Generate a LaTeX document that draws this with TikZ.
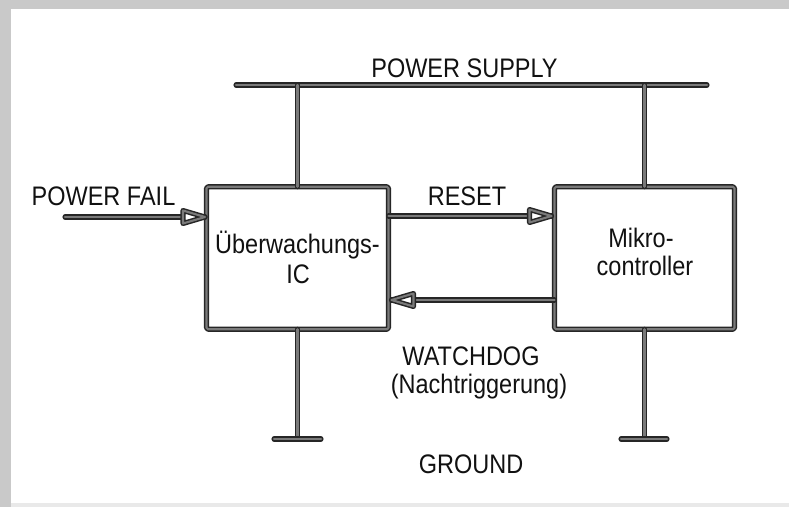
\documentclass[tikz,border=0pt]{standalone}
\usepackage{fontspec}
\setmainfont{Liberation Sans}
\definecolor{frame}{HTML}{C9C9C9}
\definecolor{outline}{HTML}{262626}
\definecolor{core}{HTML}{7A7A7A}
\definecolor{ink}{HTML}{111111}
\begin{document}
\begin{tikzpicture}[x=1pt,y=-1pt,
  wire/.style={draw=outline, line width=1.5pt, double=core, double distance=2.1pt, line cap=round, line join=round},
  box/.style={wire, rectangle, inner sep=0pt, outer sep=0pt, rounded corners=1.5pt},
  lbl/.style={anchor=base, inner sep=0pt, text=ink, yscale=1.14, transform shape, font=\fontsize{23.5}{28}\selectfont},
  pics/ahead/.style={code={\draw[wire, fill=white] (0,0) -- (-22,6.5) -- (-22,-6.5) -- cycle;}}]
\useasboundingbox (0,0) rectangle (789,507);
\fill[frame] (0,0) rectangle (789,507);
\fill[white] (11,9) rectangle (789,503);
\fill[frame!40] (11,503) rectangle (789,507);

% boxes
\node[box, minimum width=182pt, minimum height=142.5pt] (ueb) at (297.5,258) {};
\node[box, minimum width=180pt, minimum height=142.5pt] (mik) at (644.5,258) {};

% power supply bus
\coordinate (busL) at (236,85);
\coordinate (busR) at (707,85);
\draw[wire] (busL) -- (busR);
\draw[wire] (ueb.north) -- (ueb.north |- busL);
\draw[wire] (mik.north) -- (mik.north |- busL);

% ground
\coordinate (gL) at (297.5,439);
\coordinate (gR) at (644.5,439);
\coordinate (gL1) at (274,439);
\coordinate (gL2) at (321,439);
\coordinate (gR1) at (621,439);
\coordinate (gR2) at (667,439);
\draw[wire] (ueb.south) -- (gL);
\draw[wire] (mik.south) -- (gR);
\draw[wire] (gL1) -- (gL2);
\draw[wire] (gR1) -- (gR2);

% power fail arrow
\coordinate (pf) at (65,217);
\coordinate (pfTip) at ([xshift=-1.5pt]ueb.west |- pf);
\draw[wire] (pf) -- (pfTip);
\pic at (pfTip) {ahead};

% reset arrow
\coordinate (rsS) at (ueb.east |- 0,216);
\coordinate (rsT) at ([xshift=-3pt]mik.west |- 0,216);
\draw[wire] (rsS) -- (rsT);
\pic at (rsT) {ahead};

% watchdog arrow
\coordinate (wdS) at (mik.west |- 0,300);
\coordinate (wdT) at ([xshift=3pt]ueb.east |- 0,300);
\draw[wire] (wdS) -- (wdT);
\pic[xscale=-1] at (wdT) {ahead};

% labels
\node[lbl] (tps) at (464.5,77) {POWER SUPPLY};
\node[lbl] (tpf) at (103.5,205) {POWER FAIL};
\node[lbl] (trs) at (467,205) {RESET};
\node[lbl] (tu1) at (297.5,253) {Überwachungs-};
\node[lbl] (tu2) at (298,283) {IC};
\node[lbl] (tm1) at (641,247) {Mikro-};
\node[lbl] (tm2) at (645,275) {controller};
\node[lbl] (tw1) at (471,365) {WATCHDOG};
\node[lbl] (tw2) at (479,393) {(Nachtriggerung)};
\node[lbl] (tgr) at (471,473) {GROUND};
\end{tikzpicture}
\end{document}
